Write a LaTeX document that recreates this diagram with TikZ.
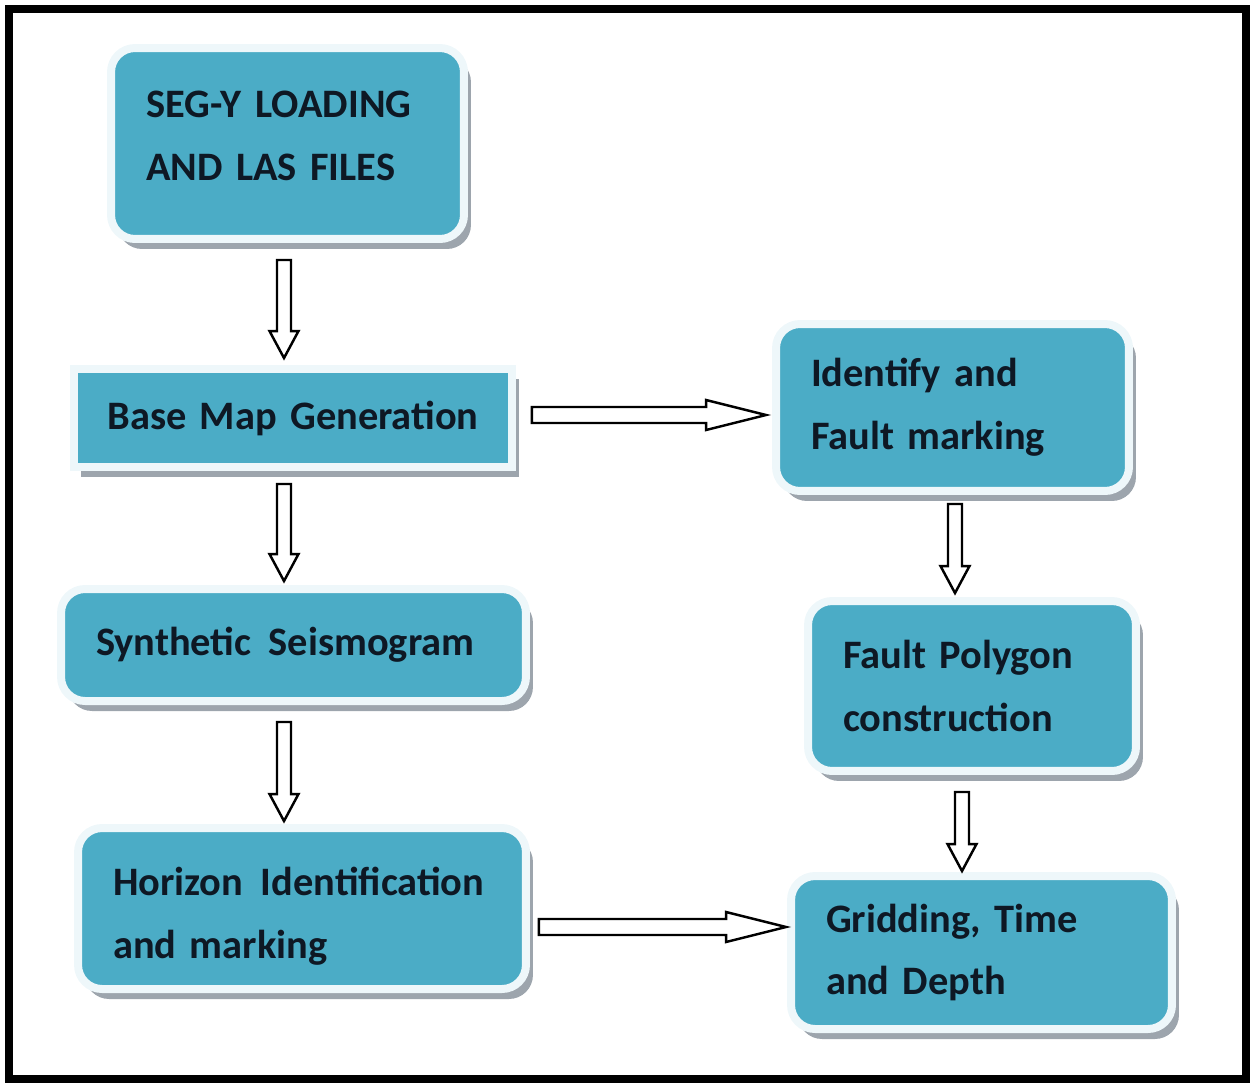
\documentclass[tikz,border=0pt]{standalone}
\usepackage{fontspec}
\setmainfont{Carlito}[WordSpace=0.7]
\usetikzlibrary{calc, shadows}

\definecolor{stageblue}{HTML}{4BACC6}
\definecolor{rimwhite}{HTML}{EEF7FA}
\definecolor{rimshadow}{HTML}{9DA5AD}
\definecolor{inkdark}{HTML}{0E1824}

\tikzset{
  stage/.style={rectangle, rounded corners=0.48cm, draw=rimwhite, line width=0.16cm,
    fill=stageblue, text=inkdark, font=\bfseries\fontsize{23}{35.8}\selectfont,
    align=left, inner xsep=0.7cm, inner ysep=0pt,
    drop shadow={shadow xshift=0.14cm, shadow yshift=-0.2cm, fill=rimshadow, opacity=1}},
  arrowline/.style={draw=black, fill=white, line width=1.4pt, line join=miter},
}

% start, end, shaft half width, head half width, head length
\newcommand{\hollowarrow}[5]{%
  \coordinate (hb) at ($(#2)!#5!(#1)$);
  \draw[arrowline] ($(#1)!#3!90:(#2)$) -- ($(hb)!#3!90:(#2)$) -- ($(hb)!#4!90:(#2)$)
    -- (#2) -- ($(hb)!#4!-90:(#2)$) -- ($(hb)!#3!-90:(#2)$) -- ($(#1)!#3!-90:(#2)$) -- cycle;
}

\begin{document}
\begin{tikzpicture}[x=0.02cm, y=-0.02cm]
\useasboundingbox (0,0) rectangle (1253,1082);
\draw[line width=0.16cm] (9,9) rectangle (1246,1079);

% left column
\node[stage, text width=5.66cm, minimum height=3.82cm, text depth=1.56cm] (seg) at (287.5,143.5) {SEG-Y LOADING\\AND LAS FILES};
\node[stage, rounded corners=0pt, align=center, inner xsep=0.3cm, text width=8.16cm, minimum height=1.96cm] (basemap) at (293,418) {Base Map Generation};
\node[stage, text width=7.9cm, minimum height=2.24cm] (synth) at (293.5,645) {Synthetic\hspace{0.1em} Seismogram};
\node[stage, text width=7.56cm, minimum height=3.22cm, text depth=1.09cm] (horizon) at (302,908.5) {Horizon\hspace{0.1em} Identification\\and marking};

% right column
\node[stage, text width=5.66cm, minimum height=3.34cm] (identify) at (952.5,407.5) {Identify and\\Fault marking};
\node[stage, text width=5.16cm, minimum height=3.40cm] (faultpoly) at (972,686) {Fault Polygon\\construction};
\node[stage, text width=6.22cm, minimum height=3.06cm] (gridding) at (981.5,952.5) {Gridding, Time\\and Depth};

% downward arrows
\foreach \src/\dst/\dx/\gap/\tip [count=\k] in {
    seg/basemap/-3.5/17/7,
    basemap/synth/-9/13/4,
    synth/horizon/-9.5/17/3,
    identify/faultpoly/2.5/9/4,
    faultpoly/gridding/-10/17/1
} {
    \coordinate (v\k a) at ($(\src.south)+(\dx,\gap)$);
    \coordinate (v\k b) at ($(v\k a |- \dst.north)+(0,-\tip)$);
    \hollowarrow{v\k a}{v\k b}{0.14cm}{0.29cm}{0.54cm}
}

% sideways arrows
\foreach \src/\dst/\dy/\gap/\tip [count=\k] in {
    basemap/identify/-3/16/6,
    horizon/gridding/18.5/9/1
} {
    \coordinate (h\k a) at ($(\src.east)+(\gap,\dy)$);
    \coordinate (h\k b) at ($(h\k a -| \dst.west)+(-\tip,0)$);
    \hollowarrow{h\k a}{h\k b}{0.16cm}{0.3cm}{1.2cm}
}
\end{tikzpicture}
\end{document}
